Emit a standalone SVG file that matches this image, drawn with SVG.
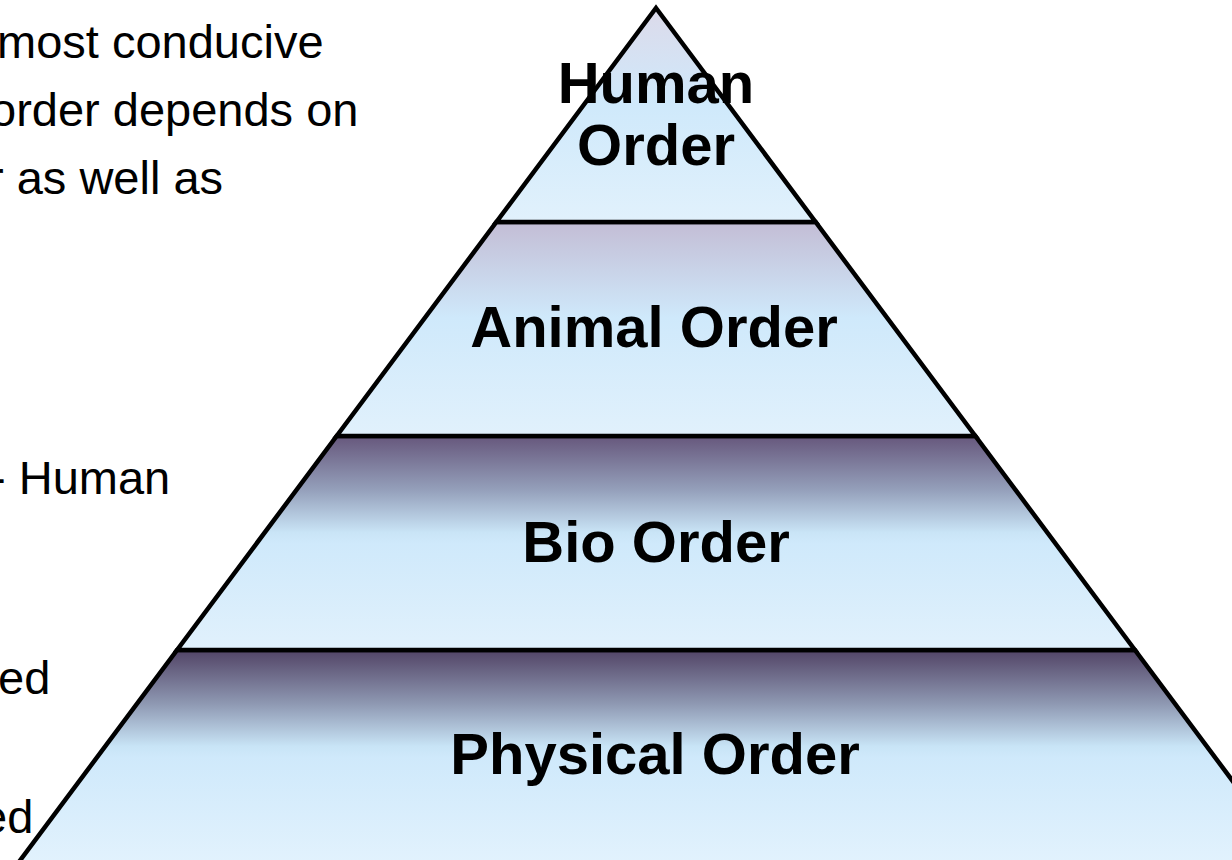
<svg xmlns="http://www.w3.org/2000/svg" width="1232" height="860" viewBox="0 0 1232 860">
<style>
.body{font-family:"Liberation Sans",Arial,sans-serif;font-size:47px;fill:#000}
.lbl{font-family:"Liberation Sans",Arial,sans-serif;font-size:58px;font-weight:bold;fill:#000;text-anchor:middle}
.band{stroke:#000;stroke-width:4.5;stroke-linejoin:miter}
</style>
<defs>
<linearGradient id="gHuman" x1="0" y1="0" x2="0" y2="1">
<stop offset="0" stop-color="#dcdaea"/>
<stop offset="0.45" stop-color="#cfe9fb"/>
<stop offset="1" stop-color="#e1f1fc"/>
</linearGradient>
<linearGradient id="gAnimal" x1="0" y1="0" x2="0" y2="1">
<stop offset="0" stop-color="#c3bdd5"/>
<stop offset="0.45" stop-color="#cfe9fb"/>
<stop offset="1" stop-color="#e1f1fc"/>
</linearGradient>
<linearGradient id="gBio" x1="0" y1="0" x2="0" y2="1">
<stop offset="0" stop-color="#66577c"/>
<stop offset="0.25" stop-color="#949fba"/>
<stop offset="0.45" stop-color="#c9e4f6"/>
<stop offset="0.5" stop-color="#cfe9fb"/>
<stop offset="1" stop-color="#e1f1fc"/>
</linearGradient>
<linearGradient id="gPhys" x1="0" y1="0" x2="0" y2="1">
<stop offset="0" stop-color="#524466"/>
<stop offset="0.25" stop-color="#8e98b2"/>
<stop offset="0.45" stop-color="#c8e4f6"/>
<stop offset="0.5" stop-color="#cfe9fb"/>
<stop offset="1" stop-color="#e2f2fd"/>
</linearGradient>
</defs>
<g id="left-text">
<text class="body" x="-3" y="58">most conducive</text>
<text class="body" x="-10" y="126">order depends on</text>
<text class="body" x="-12" y="194">r as well as</text>
<text class="body" x="-10" y="494">- Human</text>
<text class="body" x="-2" y="694">ed</text>
<text class="body" x="-19" y="833">ed</text>
</g>
<g id="physical-order">
<polygon class="band" fill="url(#gPhys)" points="177.1,650 1134.9,650 1294.6,864 17.4,864"/>
<text class="lbl" x="655" y="774">Physical Order</text>
</g>
<g id="bio-order">
<polygon class="band" fill="url(#gBio)" points="336.7,436 975.3,436 1134.9,650 177.1,650"/>
<text class="lbl" x="656" y="562">Bio Order</text>
</g>
<g id="animal-order">
<polygon class="band" fill="url(#gAnimal)" points="496.4,222 815.6,222 975.3,436 336.7,436"/>
<text class="lbl" x="654" y="347">Animal Order</text>
</g>
<g id="human-order">
<polygon class="band" fill="url(#gHuman)" points="656,8 815.6,222 496.4,222"/>
<text class="lbl" x="656" y="103">Human</text>
<text class="lbl" x="656" y="165">Order</text>
</g>
<g id="connectors"/>
</svg>
